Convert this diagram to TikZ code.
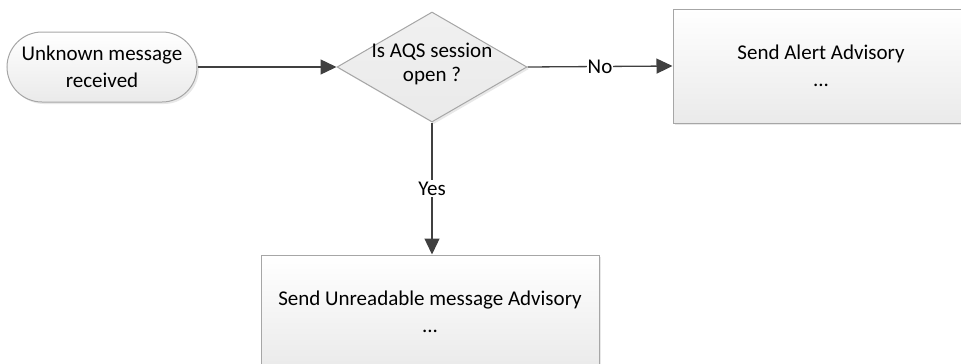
\documentclass[tikz,border=0pt]{standalone}
\usepackage{fontspec}
\setmainfont{Carlito}
\usetikzlibrary{shapes.geometric,arrows.meta,shadows}
\definecolor{edgegray}{HTML}{A6A6A6}
\definecolor{linegray}{HTML}{404040}
\definecolor{fillbot}{HTML}{EAEAEA}
\tikzset{
  flowfill/.style={draw=edgegray, line width=1pt, top color=white, bottom color=fillbot,
    drop shadow={opacity=0.18, shadow xshift=2pt, shadow yshift=-2pt}},
  terminal/.style={flowfill, rectangle, rounded corners=35pt, minimum width=190pt,
    minimum height=70pt, inner sep=0pt, align=center},
  decision/.style={flowfill, diamond, minimum width=190pt, minimum height=110pt,
    inner sep=0pt, top color=fillbot!70, bottom color=fillbot},
  process/.style={flowfill, rectangle, inner sep=0pt, align=center},
  label/.style={align=center, inner sep=0pt, text=black},
  flow/.style={draw=linegray, line width=1.3pt, -{Triangle[length=16pt,width=15pt]}},
  every node/.style={font=\fontsize{21}{27}\selectfont}
}
\begin{document}
\begin{tikzpicture}[x=1pt,y=-1pt]
  \useasboundingbox (0,0) rectangle (961,364);
  \clip (0,0) rectangle (961,364);
  % start terminal
  \node[terminal] (start) at (102,67) {Unknown message\\received};
  % decision
  \node[decision] (q) at (432,67) {};
  \node[label, font=\fontsize{21}{24}\selectfont] (qtext) at (432,64) {Is AQS session\\open ?};
  % outcome boxes
  \node[process, minimum width=296pt, minimum height=114pt] (alert) at (821,66)
    {Send Alert Advisory\\...};
  \node[process, minimum width=338pt, minimum height=114pt] (unread) at (430,312)
    {Send Unreadable message Advisory\\...};
  % connectors
  \draw[flow] (start.east) -- (q.west);
  \draw[flow] (q.east) -- node[fill=white, inner sep=1pt] (no) {No} (alert.west);
  \draw[flow] (q.south) -- node[fill=white, inner sep=2pt, pos=0.5] (yes) {Yes} (q.south |- unread.north);
\end{tikzpicture}
\end{document}
